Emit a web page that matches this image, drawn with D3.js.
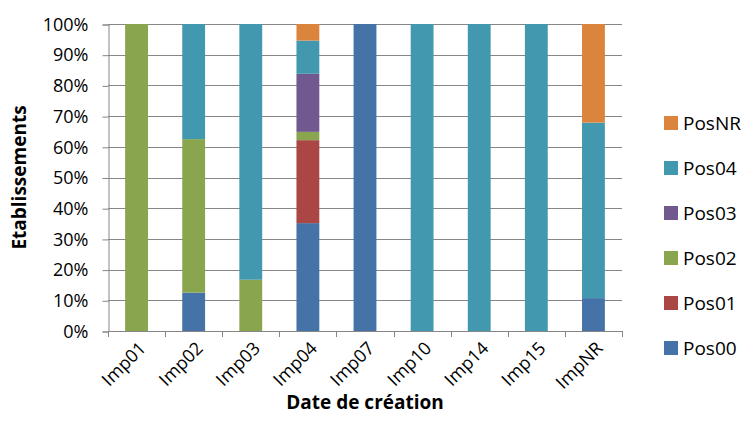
<!DOCTYPE html>
<html><head><meta charset="utf-8">
<script src="https://cdn.jsdelivr.net/npm/d3@7"></script>
<style>body{margin:0;background:#fff;} text{font-family:"Open Sans",sans-serif;fill:#000;}</style>
</head><body>
<svg id="c" width="746" height="437"></svg>
<script>
const categories = ["Imp01","Imp02","Imp03","Imp04","Imp07","Imp10","Imp14","Imp15","ImpNR"];
const seriesNames = ["Pos00","Pos01","Pos02","Pos03","Pos04","PosNR"];
const pos00 = [0, 12.5, 0, 35.1, 100, 0, 0, 0, 10.7];
const pos01 = [0, 0, 0, 27.0, 0, 0, 0, 0, 0];
const pos02 = [100, 50, 16.7, 2.7, 0, 0, 0, 0, 0];
const pos03 = [0, 0, 0, 18.9, 0, 0, 0, 0, 0];
const pos04 = [0, 37.5, 83.3, 10.8, 0, 100, 100, 100, 57.1];
const posNR = [0, 0, 0, 5.4, 0, 0, 0, 0, 32.1];
const colors = ["#4572A7","#AA4643","#89A54E","#71588F","#4198AF","#DB843D"];
const yTicks = [0,0.1,0.2,0.3,0.4,0.5,0.6,0.7,0.8,0.9,1];

const seriesVals = [pos00,pos01,pos02,pos03,pos04,posNR];
const rows = categories.map((c,i)=>{const r={cat:c}; seriesNames.forEach((s,j)=>r[s]=seriesVals[j][i]); return r;});
const stack = d3.stack().keys(seriesNames).offset(d3.stackOffsetExpand)(rows);

const svg = d3.select("#c");
const L=108, R=622, T=24, B=331;
const x = d3.scaleBand().domain(categories).range([L,R]).paddingInner(0.6).paddingOuter(0.3);
const y = d3.scaleLinear().domain([0,1]).range([B,T]);

// gridlines
svg.append("g").selectAll("line").data(yTicks).join("line")
  .attr("x1",L).attr("x2",R).attr("y1",d=>Math.round(y(d))+0.5).attr("y2",d=>Math.round(y(d))+0.5)
  .attr("stroke","#868686").attr("stroke-width",1);

// bars
svg.append("g").selectAll("g").data(stack).join("g")
  .attr("fill",(d,i)=>colors[i])
  .selectAll("rect").data(d=>d.map((v,i)=>({v,cat:categories[i]}))).join("rect")
  .attr("x",d=>x(d.cat)).attr("width",x.bandwidth())
  .attr("y",d=>y(d.v[1])).attr("height",d=>Math.max(0,y(d.v[0])-y(d.v[1])));

// y axis
const ya = d3.axisLeft(y).tickValues(yTicks).tickFormat(d3.format(".0%")).tickSize(6).tickPadding(14);
const gy = svg.append("g").attr("transform",`translate(${L+0.5},0.5)`).call(ya);
gy.select(".domain").attr("stroke","#868686");
gy.selectAll(".tick line").attr("stroke","#868686");
gy.selectAll("text").style("font-size","18px").attr("font-family","Open Sans");

// x axis
const boundaries = categories.map(c=>x(c)-x.step()*0.3).concat([R]);
const gx = svg.append("g");
gx.append("line").attr("x1",L).attr("x2",R).attr("y1",B+0.5).attr("y2",B+0.5).attr("stroke","#868686");
gx.selectAll("line.t").data(boundaries).join("line").attr("class","t")
  .attr("x1",d=>Math.round(d)+0.5).attr("x2",d=>Math.round(d)+0.5).attr("y1",B).attr("y2",B+6).attr("stroke","#868686");
gx.selectAll("text").data(categories).join("text")
  .attr("transform",d=>`translate(${x(d)+x.bandwidth()/2+6},${B+14}) rotate(-45)`)
  .attr("text-anchor","end").attr("dy","0.35em").style("font-size","18px").text(d=>d);

// axis titles
svg.append("text").attr("x",(L+R)/2).attr("y",409).attr("text-anchor","middle")
  .style("font-size","19px").style("font-weight","bold").text("Date de création");
svg.append("text").attr("transform",`translate(26,${(T+B)/2}) rotate(-90)`).attr("text-anchor","middle")
  .style("font-size","19px").style("font-weight","bold").text("Etablissements");

// legend
const legendOrder = [5,4,3,2,1,0];
const lg = svg.append("g").selectAll("g").data(legendOrder).join("g")
  .attr("transform",(d,i)=>`translate(664,${123+45*i})`);
lg.append("rect").attr("x",0).attr("y",-7).attr("width",14).attr("height",14).attr("fill",d=>colors[d]);
lg.append("text").attr("x",19).attr("dy","0.36em").style("font-size","19px").text(d=>seriesNames[d]);
</script>
</body></html>
